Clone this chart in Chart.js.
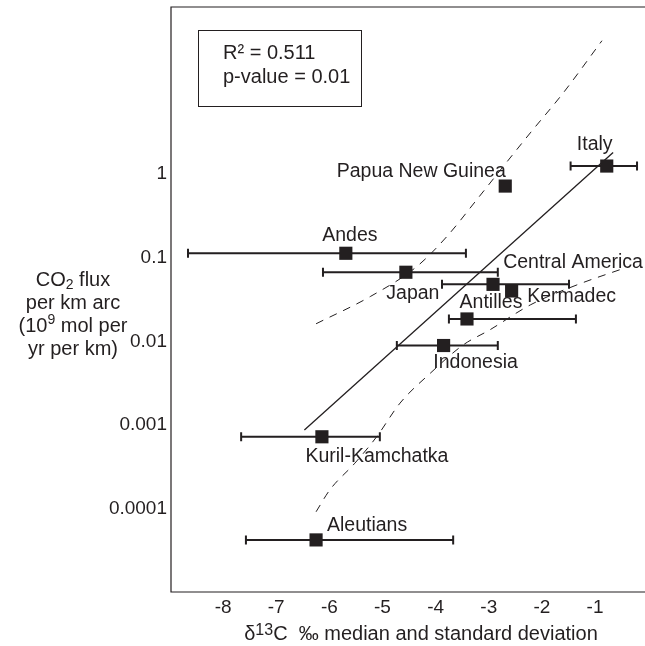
<!DOCTYPE html>
<html>
<head>
<meta charset="utf-8">
<script src="https://cdn.jsdelivr.net/npm/chart.js@4.4.1/dist/chart.umd.min.js"></script>
<style>
  html, body { margin: 0; padding: 0; background: #ffffff; }
  #c { display: block; }
</style>
</head>
<body>
<canvas id="c" width="645" height="646"></canvas>
<script>
// Arc-by-arc CO2 flux against carbon isotope composition
const arcs = ['Italy', 'Papua New Guinea', 'Andes', 'Japan', 'Central America',
              'Kermadec', 'Antilles', 'Indonesia', 'Kuril-Kamchatka', 'Aleutians'];
const delta13C  = [-0.78, -2.69, -5.69, -4.56, -2.92, -2.57, -3.41, -3.85, -6.14, -6.25];
const co2Flux   = [1.25, 0.72, 0.113, 0.067, 0.048, 0.040, 0.0185, 0.0089, 0.00072, 0.000042];
const deltaLow  = [-1.46, null, -8.66, -6.12, -3.88, null, -3.75, -4.73, -7.66, -7.57];
const deltaHigh = [-0.21, null, -3.43, -2.83, -1.49, null, -1.36, -2.83, -5.05, -3.67];

// Regression line and its confidence band
const fitX = [-6.47, -0.66];
const fitY = [0.00087, 1.81];
const upperX = [-6.25, -5.23, -4.355, -3.79, -3.23, -2.73, -2.22, -1.60, -0.87];
const upperY = [0.0162, 0.0343, 0.0783, 0.179, 0.491, 1.23, 3.11, 9.35, 39.5];
const lowerX = [-6.25, -5.99, -5.52, -5.11, -4.67, -4.10, -3.48, -2.98, -2.22, -1.34, -0.435];
const lowerY = [0.0000912, 0.000167, 0.000348, 0.00072, 0.00182, 0.00415, 0.00906, 0.0137, 0.0272, 0.0473, 0.0755];

// Axis ticks
const xTickValues = [-8, -7, -6, -5, -4, -3, -2, -1];
const yTickValues = [0.0001, 0.001, 0.01, 0.1, 1];
const yTickLabels = ['0.0001', '0.001', '0.01', '0.1', '1'];

const statsLines = ['R\u00B2 = 0.511', 'p-value = 0.01'];

// Label placement around each marker (pixels, centre of text)
const labelDX = [-12, -84, 4, 7, 80, 60, 24, 32, 55, 51];
const labelDY = [-21, -14, -18, 21, -22, 6, -16, 17, 20, -14];

const INK = '#231f20';
const FONT = '"Liberation Sans", Arial, Helvetica, sans-serif';

const toXY = (xs, ys) => xs.map((x, i) => ({ x, y: ys[i] }));

const errorBars = {
  id: 'errorBars',
  beforeDatasetsDraw(chart) {
    const { ctx, scales: { x, y } } = chart;
    ctx.save();
    ctx.strokeStyle = INK;
    ctx.lineWidth = 2;
    const cap = 4.5;
    delta13C.forEach((_, i) => {
      if (deltaLow[i] == null) return;
      const py = y.getPixelForValue(co2Flux[i]);
      const x0 = x.getPixelForValue(deltaLow[i]);
      const x1 = x.getPixelForValue(deltaHigh[i]);
      ctx.beginPath();
      ctx.moveTo(x0, py); ctx.lineTo(x1, py);
      ctx.moveTo(x0, py - cap); ctx.lineTo(x0, py + cap);
      ctx.moveTo(x1, py - cap); ctx.lineTo(x1, py + cap);
      ctx.stroke();
    });
    ctx.restore();
  }
};

const pointLabels = {
  id: 'pointLabels',
  afterDatasetsDraw(chart) {
    const { ctx, scales: { x, y } } = chart;
    ctx.save();
    ctx.fillStyle = INK;
    ctx.font = '19.5px ' + FONT;
    ctx.textAlign = 'center';
    ctx.textBaseline = 'middle';
    arcs.forEach((name, i) => {
      const px = x.getPixelForValue(delta13C[i]);
      const py = y.getPixelForValue(co2Flux[i]);
      ctx.fillText(name, px + labelDX[i], py + labelDY[i]);
    });
    ctx.restore();
  }
};

function drawRuns(ctx, runs, cx, cy, align) {
  // runs: [text, sizeScale, baselineShift]
  const base = 20;
  let total = 0;
  runs.forEach(r => { ctx.font = (base * r[1]) + 'px ' + FONT; total += ctx.measureText(r[0]).width; });
  let x = align === 'center' ? cx - total / 2 : cx;
  runs.forEach(r => {
    ctx.font = (base * r[1]) + 'px ' + FONT;
    ctx.fillText(r[0], x, cy + r[2]);
    x += ctx.measureText(r[0]).width;
  });
}

const frameAndText = {
  id: 'frameAndText',
  afterDraw(chart) {
    const { ctx, chartArea: a } = chart;
    ctx.save();
    ctx.strokeStyle = INK;
    ctx.lineWidth = 1.2;
    ctx.beginPath();
    ctx.moveTo(a.right + 2, a.top); ctx.lineTo(a.left, a.top);
    ctx.lineTo(a.left, a.bottom); ctx.lineTo(a.right + 2, a.bottom);
    ctx.stroke();

    // statistics box
    ctx.lineWidth = 1;
    ctx.strokeRect(198.5, 30.5, 163, 76);
    ctx.fillStyle = INK;
    ctx.textBaseline = 'middle';
    ctx.textAlign = 'left';
    ctx.font = '20px ' + FONT;
    ctx.fillText(statsLines[0], 223, 53);
    ctx.fillText(statsLines[1], 223, 77);

    // y-axis title
    const yc = 73;
    drawRuns(ctx, [['CO', 1, 0], ['2', 0.7, 5], [' flux', 1, 0]], yc, 280, 'center');
    drawRuns(ctx, [['per km arc', 1, 0]], yc, 303, 'center');
    drawRuns(ctx, [['(10', 1, 0], ['9', 0.7, -6], [' mol per', 1, 0]], yc, 326, 'center');
    drawRuns(ctx, [['yr per km)', 1, 0]], yc, 349, 'center');

    // x-axis title
    drawRuns(ctx, [['\u03B4', 1, 0], ['13', 0.8, -3], ['C  \u2030 median and standard deviation', 1, 0]], 421, 634, 'center');
    ctx.restore();
  }
};

const noPad = s => { s.paddingTop = 0; s.paddingBottom = 0; s.paddingLeft = 0; s.paddingRight = 0; };

new Chart(document.getElementById('c'), {
  data: {
    datasets: [
      {
        type: 'scatter',
        label: 'arcs',
        data: toXY(delta13C, co2Flux),
        pointStyle: 'rect',
        pointRadius: 9.3,
        backgroundColor: INK,
        borderWidth: 0
      },
      {
        type: 'line',
        label: 'fit',
        data: toXY(fitX, fitY),
        borderColor: INK,
        borderWidth: 1.3,
        pointRadius: 0,
        fill: false
      },
      {
        type: 'line',
        label: 'upper',
        data: toXY(upperX, upperY),
        borderColor: INK,
        borderWidth: 1,
        borderDash: [8, 7],
        cubicInterpolationMode: 'monotone',
        pointRadius: 0,
        fill: false
      },
      {
        type: 'line',
        label: 'lower',
        data: toXY(lowerX, lowerY),
        borderColor: INK,
        borderWidth: 1,
        borderDash: [8, 7],
        cubicInterpolationMode: 'monotone',
        pointRadius: 0,
        fill: false
      }
    ]
  },
  options: {
    responsive: false,
    devicePixelRatio: 1,
    animation: false,
    layout: { autoPadding: false, padding: { top: 7, right: 0, left: 0, bottom: 0 } },
    plugins: { legend: { display: false }, tooltip: { enabled: false } },
    scales: {
      x: {
        type: 'linear',
        min: -8.98,
        max: -0.06,
        afterBuildTicks(s) { s.ticks = xTickValues.map(v => ({ value: v })); },
        afterFit(s) { s.height = 54; noPad(s); },
        grid: { display: false, drawTicks: false },
        border: { display: false },
        ticks: { color: INK, font: { family: FONT, size: 19 }, padding: 4, maxRotation: 0, callback: v => String(v) }
      },
      y: {
        type: 'logarithmic',
        min: 0.00001,
        max: 100,
        afterBuildTicks(s) { s.ticks = yTickValues.map(v => ({ value: v })); },
        afterFit(s) { s.width = 171; noPad(s); },
        grid: { display: false, drawTicks: false },
        border: { display: false },
        ticks: { color: INK, font: { family: FONT, size: 19 }, padding: 4, callback: (v, i) => yTickLabels[i] }
      }
    }
  },
  plugins: [errorBars, pointLabels, frameAndText]
});
</script>
</body>
</html>
